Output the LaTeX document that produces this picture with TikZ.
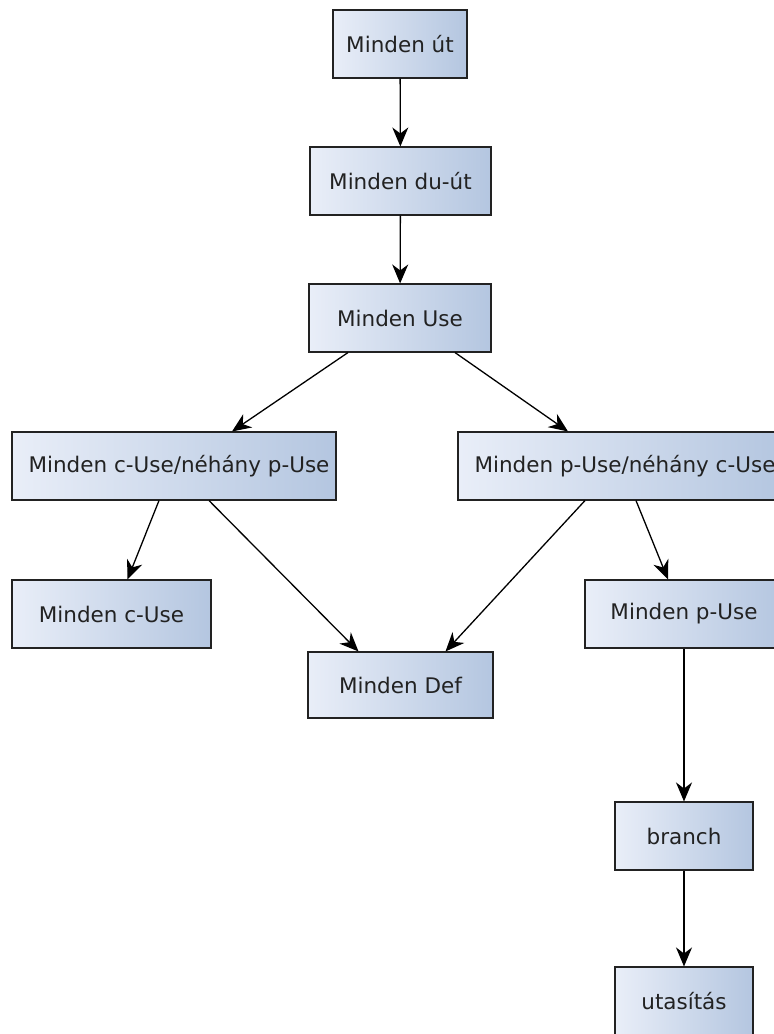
\documentclass[tikz,border=0pt]{standalone}
\usepackage{fontspec}
\setmainfont{DejaVu Sans}
\usetikzlibrary{arrows.meta}
\definecolor{boxlight}{HTML}{E9EEF8}
\definecolor{boxdark}{HTML}{B4C6E0}
\definecolor{inkgray}{HTML}{222222}
\begin{document}
\begin{tikzpicture}[x=1pt,y=-1pt,
  box/.style={draw=inkgray, line width=1.1pt, left color=boxlight, right color=boxdark,
    minimum height=68pt, inner sep=0pt, text=inkgray,
    font=\fontsize{21.5}{25}\selectfont},
  link/.style={line width=1.3pt, draw=black,
    -{Stealth[length=19pt,width=16pt,inset=6pt]}}]
\useasboundingbox (0,0) rectangle (774,1034);
\clip (0,0) rectangle (774,1034);

% coverage criteria boxes
\node[box, minimum width=134pt] (ut)    at (400,44)  {Minden út};
\node[box, minimum width=181pt] (duut)  at (400.5,181) {Minden du-út};
\node[box, minimum width=182pt] (use)   at (400,318) {Minden Use};
\node[box, minimum width=324pt] (cpu)   at (174,466) {\hspace*{10pt}Minden c-Use/néhány p-Use};
\node[box, minimum width=324pt] (pcu)   at (620,466) {\hspace*{10pt}Minden p-Use/néhány c-Use};
\node[box, minimum width=199pt] (cuse)  at (111.5,614) {Minden c-Use};
\node[box, minimum width=185pt, minimum height=66pt] (def) at (400.5,685) {Minden Def};
\node[box, minimum width=198pt] (puse)  at (684,614) {Minden p-Use};
\node[box, minimum width=138pt] (br)    at (684,836) {branch};
\node[box, minimum width=138pt] (utas)  at (684,1001) {utasítás};

% subsumption arrows
\draw[link] (ut) -- (duut);
\draw[link] (duut) -- (use);
\draw[link] ([xshift=-52pt]use.south) -- ([xshift=58pt]cpu.north);
\draw[link] ([xshift=55pt]use.south) -- ([xshift=-52pt]pcu.north);
\draw[link] ([xshift=-15pt]cpu.south) -- ([xshift=16pt]cuse.north);
\draw[link] ([xshift=35pt]cpu.south) -- ([xshift=-42pt]def.north);
\draw[link] ([xshift=-35pt]pcu.south) -- ([xshift=45pt]def.north);
\draw[link] ([xshift=16pt]pcu.south) -- ([xshift=-16pt]puse.north);
\draw[link] (puse) -- (br);
\draw[link] (br) -- (utas);
\end{tikzpicture}
\end{document}
